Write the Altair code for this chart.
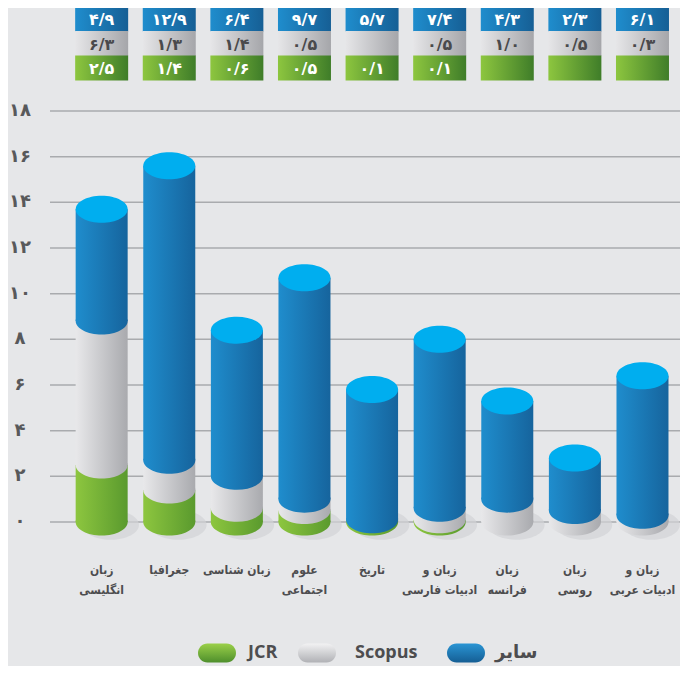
import altair as alt
import pandas as pd

# ---------------- data ----------------
categories = ["زبان انگلیسی", "جغرافیا", "زبان شناسی", "علوم اجتماعی", "تاریخ",
              "زبان و ادبیات فارسی", "زبان فرانسه", "زبان روسی", "زبان و ادبیات عربی"]
category_labels = ["زبان\nانگلیسی", "جغرافیا", "زبان شناسی", "علوم\nاجتماعی", "تاریخ",
                   "زبان و\nادبیات فارسی", "زبان\nفرانسه", "زبان\nروسی", "زبان و\nادبیات عربی"]
other = [4.9, 12.9, 6.4, 9.7, 5.7, 7.4, 4.3, 2.3, 6.1]       # سایر
scopus = [6.3, 1.3, 1.4, 0.5, None, 0.5, 1.0, 0.5, 0.3]     # Scopus
jcr = [2.5, 1.4, 0.6, 0.5, 0.1, 0.1, None, None, None]      # JCR
y_ticks = [0, 2, 4, 6, 8, 10, 12, 14, 16, 18]
series_names = ["JCR", "Scopus", "سایر"]

# ---------------- helpers ----------------
FA = str.maketrans("0123456789", "۰۱۲۳۴۵۶۷۸۹")


def fa_num(v):
    return "" if v is None else f"{v:.1f}".replace(".", "/").translate(FA)


def grad(c0, c1, vertical=False):
    return alt.Gradient(
        gradient="linear",
        stops=[alt.GradientStop(color=c0, offset=0), alt.GradientStop(color=c1, offset=1)],
        x1=0, y1=0, x2=0 if vertical else 1, y2=1 if vertical else 0,
    )


n = len(categories)
seg_rows = []
for i in range(n):
    base = 0.0
    for s, vals in zip(series_names, (jcr, scopus, other)):
        v = vals[i] or 0
        if v > 0:
            seg_rows.append({"idx": i, "series": s, "lo": base, "hi": base + v})
        base += v
seg = pd.DataFrame(seg_rows)

totals = pd.DataFrame({
    "idx": list(range(n)),
    "total": [(a or 0) + (b or 0) + (c or 0) for a, b, c in zip(jcr, scopus, other)],
    "base": [0] * n,
    "label": category_labels,
    "l_other": [fa_num(v) for v in other],
    "l_scopus": [fa_num(v) for v in scopus],
    "l_jcr": [fa_num(v) for v in jcr],
})
ticks = pd.DataFrame({"tick": y_ticks, "lab": [str(t).translate(FA) for t in y_ticks]})

# ---------------- layout / style ----------------
W, H = 672, 658
XS = alt.Scale(domain=[-1.3115, 8.481], nice=False, zero=False)
YS = alt.Scale(domain=[-6.307, 22.51], nice=False, zero=False)
X = alt.X("idx:Q", scale=XS, axis=None)

BAR_W = 52
ELL = ("M-1,0 C-1,-0.2872 -0.5523,-0.52 0,-0.52 C0.5523,-0.52 1,-0.2872 1,0 "
       "C1,0.2872 0.5523,0.52 0,0.52 C-0.5523,0.52 -1,0.2872 -1,0 Z")
HALF = ("M-1,-0.06 L-1,0 C-1,0.2872 -0.5523,0.52 0,0.52 C0.5523,0.52 1,0.2872 1,0 "
        "L1,-0.06 Z")
CELL = "M-1,-0.47 L1,-0.47 L1,0.47 L-1,0.47 Z"
PILL = ("M-0.5,-0.5 L0.5,-0.5 C0.776,-0.5 1,-0.276 1,0 C1,0.276 0.776,0.5 0.5,0.5 "
        "L-0.5,0.5 C-0.776,0.5 -1,0.276 -1,0 C-1,-0.276 -0.776,-0.5 -0.5,-0.5 Z")

body_grad = {
    "JCR": grad("#8dc63f", "#5a9a2e"),
    "Scopus": grad("#e8e8ea", "#a9aaae"),
    "سایر": grad("#1f8dcd", "#16649d"),
}
FA_FONT = "DejaVu Sans"
LBL_FONT = "DejaVu Sans Condensed, DejaVu Sans"
TXT = "#4d4d4f"

layers = []

# grid lines
layers.append(alt.Chart(ticks).mark_rule(color="#a9abae", strokeWidth=1.5).encode(
    y=alt.Y("tick:Q", scale=YS, axis=None), x=alt.value(42), x2=alt.value(W)))
# y tick labels
layers.append(alt.Chart(ticks).mark_text(
    font=FA_FONT, fontSize=18, fontWeight="bold", color="#58595b",
    align="center", baseline="middle").encode(
    x=alt.value(12), y=alt.Y("tick:Q", scale=YS, axis=None), text="lab:N"))

# shadows
layers.append(alt.Chart(totals).mark_point(
    shape=ELL, size=3200, filled=True, color="#d2d3d6", opacity=0.7,
    strokeWidth=0, xOffset=9, yOffset=3).encode(
    x=X, y=alt.Y("base:Q", scale=YS, axis=None)))

# cylinder segments
for s in series_names:
    d = seg[seg["series"] == s]
    layers.append(alt.Chart(d).mark_bar(size=BAR_W, color=body_grad[s], orient="vertical").encode(
        x=X, y=alt.Y("lo:Q", scale=YS, axis=None), y2="hi:Q"))
    layers.append(alt.Chart(d).mark_point(
        shape=HALF, size=BAR_W ** 2, filled=True, color=body_grad[s],
        opacity=1, strokeWidth=0).encode(
        x=X, y=alt.Y("lo:Q", scale=YS, axis=None)))

# top caps
layers.append(alt.Chart(totals).mark_point(
    shape=ELL, size=BAR_W ** 2, filled=True, color="#00aeef", opacity=1, strokeWidth=0).encode(
    x=X, y=alt.Y("total:Q", scale=YS, axis=None)))

# table at top
rows = [
    ("l_other", grad("#1f8dcd", "#165f95"), "white", 11),
    ("l_scopus", grad("#e6e6e8", "#a5a6aa"), "#4a4a4c", 35.5),
    ("l_jcr", grad("#8dc63f", "#3f7d29"), "white", 60),
]
for field, g, tc, cy in rows:
    layers.append(alt.Chart(totals).mark_point(
        shape=CELL, size=53 ** 2, filled=True, color=g, opacity=1, strokeWidth=0).encode(
        x=X, y=alt.value(cy)))
    layers.append(alt.Chart(totals).mark_text(
        font=FA_FONT, fontSize=16, fontWeight="bold", color=tc,
        align="center", baseline="middle").encode(
        x=X, y=alt.value(cy + 1), text=f"{field}:N"))

# category labels
layers.append(alt.Chart(totals).mark_text(
    font=LBL_FONT, fontSize=12, fontWeight="bold", color=TXT,
    align="center", baseline="top", lineBreak="\n", lineHeight=20).encode(
    x=X, y=alt.value(557), text="label:N"))

# legend
leg_y = 645
legend_items = [
    ("JCR", grad("#9bd049", "#4e8f2c", vertical=True), 209, 240, "Open Sans"),
    ("Scopus", grad("#f2f2f3", "#b0b1b5", vertical=True), 309, 347, "Open Sans"),
    ("سایر", grad("#2a95d4", "#155e94", vertical=True), 458, 487, FA_FONT),
]
for name, g, px, tx, fnt in legend_items:
    one = pd.DataFrame({"name": [name]})
    layers.append(alt.Chart(one).mark_point(
        shape=PILL, size=38 ** 2, filled=True, color=g, opacity=1, strokeWidth=0).encode(
        x=alt.value(px), y=alt.value(leg_y)))
    layers.append(alt.Chart(one).mark_text(
        font=fnt, fontSize=18, fontWeight="bold", color=TXT,
        align="left", baseline="middle").encode(
        x=alt.value(tx), y=alt.value(leg_y), text="name:N"))

chart = alt.layer(*layers).properties(
    width=W, height=H, padding=0,
    autosize=alt.AutoSizeParams(type="none"),
    background="#e6e7e9",
).configure_view(stroke=None)

chart.save("out.html", embed_options={"renderer": "svg", "actions": False})
